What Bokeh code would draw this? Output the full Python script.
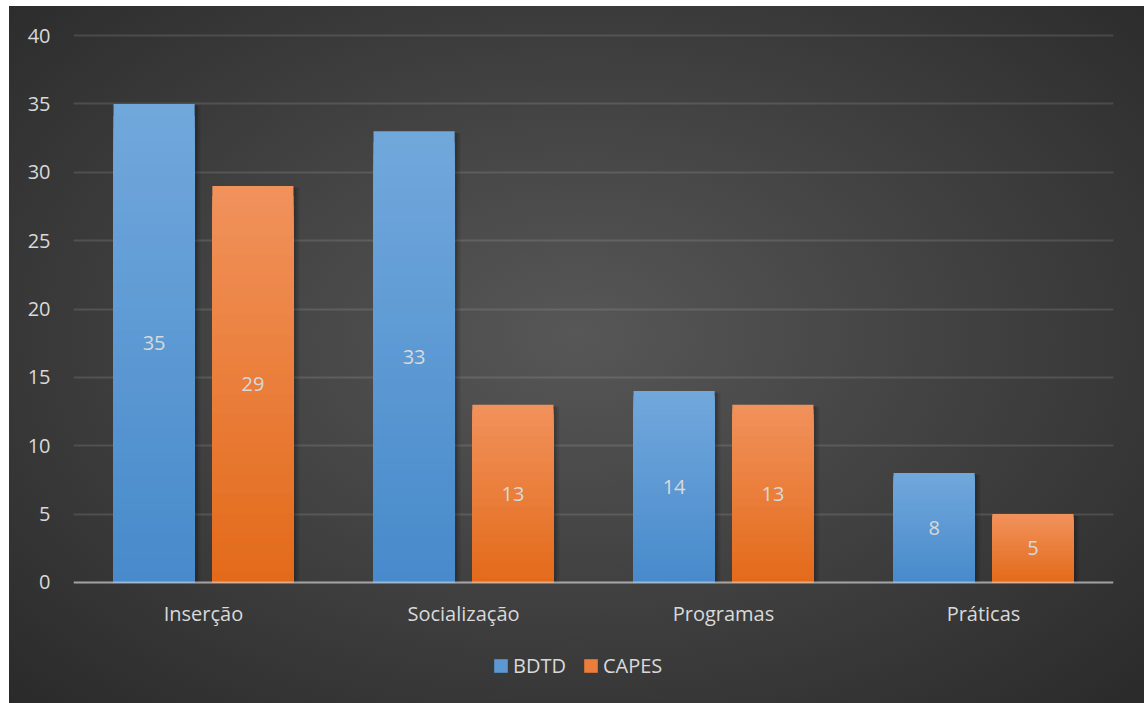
from bokeh.plotting import figure
from bokeh.models import (ColumnDataSource, FactorRange, Range1d, Legend, LegendItem,
                          FixedTicker, LabelSet)
from bokeh.core.properties import value
from bokeh.transform import dodge
from bokeh.embed import file_html
from bokeh.resources import INLINE

# Data
categories = ["Inserção", "Socialização", "Programas", "Práticas"]
series_names = ["BDTD", "CAPES"]
bdtd = [35, 33, 14, 8]
capes = [29, 13, 13, 5]
y_ticks = [0, 5, 10, 15, 20, 25, 30, 35, 40]

FONT = "Open Sans"
TEXT_COLOR = "#d9d9d9"
BAR_WIDTH = 0.312
OFFSET = 0.19
STEPS = 40

# (bottom colour, top colour) per series
styles = {
    "BDTD": ((0x47, 0x8a, 0xcb), (0x72, 0xa8, 0xdc)),
    "CAPES": ((0xe3, 0x6a, 0x1a), (0xf1, 0x92, 0x5c)),
}


def mix(c0, c1, t):
    return "#%02x%02x%02x" % tuple(int(round(a + (b - a) * t)) for a, b in zip(c0, c1))


# the frame runs down to the bottom of the chart so that the category labels
# and the legend sit inside it; the x axis is pinned at y = 0
p = figure(
    x_range=FactorRange(*categories),
    y_range=Range1d(-8.85, 40.15),
    width=1135, height=697,
    output_backend="svg", toolbar_location=None,
    min_border_left=64, min_border_right=31,
    min_border_top=27, min_border_bottom=0,
)
p.margin = (6, 0, 0, 9)
p.background_fill_alpha = 0
p.border_fill_alpha = 0
p.outline_line_color = None
p.styles = {"background": "radial-gradient(ellipse at 50% 47%, #575757 0%, #474747 35%, #2a2a2a 100%)"}

legend_items = []
for name, vals, off in (("BDTD", bdtd, -OFFSET), ("CAPES", capes, OFFSET)):
    bottom_c, top_c = styles[name]

    # soft shadow to the right of each bar, kept just under the bar's top edge
    for k, (shift, alpha) in enumerate(((0.010, 0.16), (0.018, 0.10))):
        shadow = ColumnDataSource(dict(cat=categories, top=[v - 0.12 for v in vals]))
        p.vbar(x=dodge("cat", off + shift, range=p.x_range), top="top", bottom=0,
               width=BAR_WIDTH + 0.004 * (k + 1), source=shadow,
               fill_color="black", fill_alpha=alpha, line_color=None)

    # bar body: nested rectangles from the baseline, tallest first, so that the
    # fill reads as a smooth vertical gradient with no seams
    xs, tops, cols = [], [], []
    for i in range(STEPS, 0, -1):
        for c, v in zip(categories, vals):
            xs.append(c)
            tops.append(v * i / STEPS)
            cols.append(mix(bottom_c, top_c, (i - 0.5) / STEPS))
    src = ColumnDataSource(dict(cat=xs, top=tops, color=cols))
    bars = p.vbar(x=dodge("cat", off, range=p.x_range), top="top", bottom=0,
                  width=BAR_WIDTH, source=src, fill_color="color", line_color=None)

    # value labels in the middle of each bar
    lab = ColumnDataSource(dict(cat=categories, mid=[v / 2 for v in vals],
                                txt=[str(v) for v in vals]))
    p.add_layout(LabelSet(x=dodge("cat", off, range=p.x_range), y="mid", text="txt",
                          source=lab, text_align="center", text_baseline="middle",
                          text_color=TEXT_COLOR, text_font=value(FONT),
                          text_font_size="20px"))

    # legend swatch takes the mid-gradient colour of the bars
    legend_items.append(LegendItem(label=name, renderers=[bars],
                                   index=(STEPS // 2) * len(categories)))

# axes
p.yaxis.ticker = FixedTicker(ticks=y_ticks)
p.yaxis.axis_line_color = None
p.yaxis.major_tick_line_color = None
p.yaxis.minor_tick_line_color = None
p.yaxis.major_label_text_color = TEXT_COLOR
p.yaxis.major_label_text_font = FONT
p.yaxis.major_label_text_font_size = "20px"
p.yaxis.major_label_standoff = 17

p.xaxis.fixed_location = 0
p.xaxis.axis_line_color = "#d9d9d9"
p.xaxis.axis_line_alpha = 0.6
p.xaxis.axis_line_width = 2
p.xaxis.major_tick_line_color = None
p.xaxis.minor_tick_line_color = None
p.xaxis.major_label_text_color = TEXT_COLOR
p.xaxis.major_label_text_font = FONT
p.xaxis.major_label_text_font_size = "20px"
p.xaxis.major_label_standoff = 12

p.xgrid.grid_line_color = None
p.ygrid.grid_line_color = "#d9d9d9"
p.ygrid.grid_line_alpha = 0.15
p.ygrid.grid_line_width = 2

legend = Legend(items=legend_items, orientation="horizontal", location=(419, 24),
                background_fill_alpha=0, border_line_color=None,
                label_text_color=TEXT_COLOR, label_text_font=FONT,
                label_text_font_size="20px", glyph_width=17, glyph_height=17,
                label_standoff=4, spacing=16, padding=0, margin=0)
p.add_layout(legend, "center")

open("out.html", "w").write(file_html(p, INLINE))
